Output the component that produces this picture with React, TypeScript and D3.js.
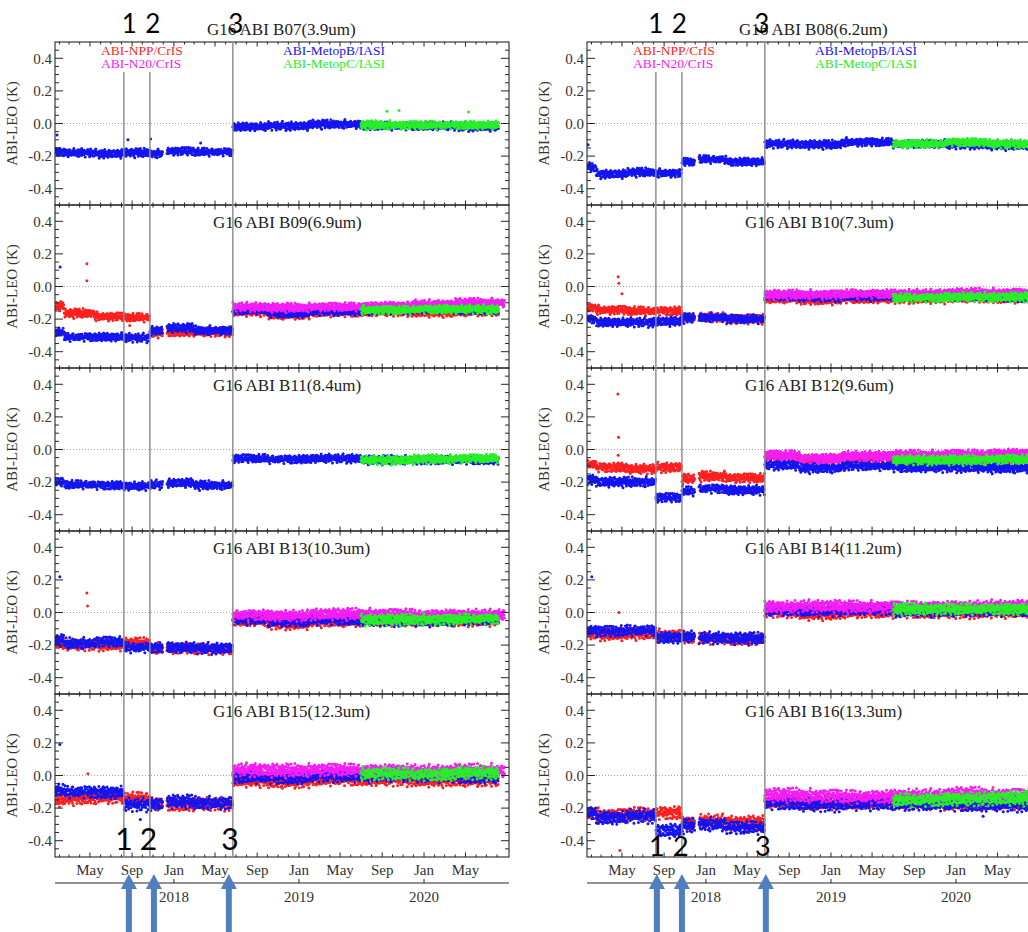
import React, { useMemo } from "react";
import * as d3 from "d3";

// ---------------------------------------------------------------------------
// Data: ABI minus LEO brightness-temperature bias (K) for each ABI IR band.
// Each series is read as a level per period (mean) plus the half-width of the
// daily scatter cloud for the panel.
// ---------------------------------------------------------------------------

const PERIODS: [string, string][] = [
  ["2017-01-20", "2017-02-15"],
  ["2017-02-15", "2017-05-15"],
  ["2017-05-15", "2017-08-08"],
  ["2017-08-08", "2017-10-23"],
  ["2017-10-23", "2017-11-30"],
  ["2017-12-12", "2018-03-01"],
  ["2018-03-01", "2018-06-22"],
  ["2018-06-22", "2018-10-01"],
  ["2018-10-01", "2019-02-01"],
  ["2019-02-01", "2019-07-01"],
  ["2019-07-01", "2019-12-01"],
  ["2019-12-01", "2020-04-01"],
  ["2020-04-01", "2020-08-06"],
];
const N20_FIRST = 7; // NOAA-20 comparisons start with period 7
const METOPC_FIRST = 10; // Metop-C comparisons start with period 10
const N20_END = "2020-08-24";

const EVENTS = ["2017-08-08", "2017-10-23", "2018-06-22"];
const EVENT_LABELS = ["1", "2", "3"];

const BANDS = [
  "G16 ABI B07(3.9um)",
  "G16 ABI B08(6.2um)",
  "G16 ABI B09(6.9um)",
  "G16 ABI B10(7.3um)",
  "G16 ABI B11(8.4um)",
  "G16 ABI B12(9.6um)",
  "G16 ABI B13(10.3um)",
  "G16 ABI B14(11.2um)",
  "G16 ABI B15(12.3um)",
  "G16 ABI B16(13.3um)",
];

const LEGEND = ["ABI-NPP/CrIS", "ABI-N20/CrIS", "ABI-MetopB/IASI", "ABI-MetopC/IASI"];

// B07
const B07_BLUE = [-0.175, -0.18, -0.185, -0.18, -0.185, -0.17, -0.175, -0.02, -0.015, -0.005, -0.015, -0.015, -0.02];
const B07_GREEN = [-0.01, -0.01, -0.01];
// B08
const B08_BLUE = [-0.27, -0.31, -0.3, -0.305, -0.235, -0.22, -0.235, -0.125, -0.13, -0.115, -0.125, -0.13, -0.135];
const B08_GREEN = [-0.125, -0.115, -0.125];
// B09
const B09_RED = [-0.12, -0.165, -0.185, -0.19, -0.29, -0.28, -0.28, -0.155, -0.175, -0.16, -0.155, -0.16, -0.155];
const B09_BLUE = [-0.28, -0.31, -0.31, -0.315, -0.27, -0.255, -0.27, -0.145, -0.165, -0.15, -0.145, -0.14, -0.145];
const B09_MAGENTA = [-0.125, -0.13, -0.125, -0.12, -0.11, -0.1];
const B09_GREEN = [-0.145, -0.14, -0.14];
// B10
const B10_RED = [-0.13, -0.145, -0.15, -0.15, -0.19, -0.19, -0.2, -0.075, -0.085, -0.075, -0.075, -0.07, -0.075];
const B10_BLUE = [-0.2, -0.22, -0.22, -0.215, -0.195, -0.19, -0.2, -0.06, -0.065, -0.06, -0.06, -0.06, -0.065];
const B10_MAGENTA = [-0.05, -0.05, -0.045, -0.045, -0.04, -0.04];
const B10_GREEN = [-0.07, -0.065, -0.065];
// B11
const B11_BLUE = [-0.2, -0.215, -0.22, -0.225, -0.215, -0.205, -0.22, -0.055, -0.06, -0.055, -0.065, -0.065, -0.065];
const B11_GREEN = [-0.065, -0.06, -0.055];
// B12
const B12_RED = [-0.09, -0.11, -0.12, -0.11, -0.18, -0.165, -0.175, -0.045, -0.06, -0.05, -0.05, -0.055, -0.055];
const B12_BLUE = [-0.185, -0.2, -0.2, -0.295, -0.255, -0.24, -0.25, -0.095, -0.115, -0.1, -0.11, -0.11, -0.115];
const B12_MAGENTA = [-0.035, -0.055, -0.04, -0.035, -0.03, -0.025];
const B12_GREEN = [-0.065, -0.065, -0.06];
// B13
const B13_RED = [-0.19, -0.2, -0.2, -0.19, -0.22, -0.22, -0.225, -0.05, -0.07, -0.055, -0.05, -0.05, -0.05];
const B13_BLUE = [-0.17, -0.19, -0.18, -0.215, -0.215, -0.215, -0.22, -0.04, -0.055, -0.045, -0.05, -0.05, -0.045];
const B13_MAGENTA = [-0.015, -0.02, -0.01, -0.01, -0.015, -0.015];
const B13_GREEN = [-0.045, -0.045, -0.04];
// B14
const B14_RED = [-0.13, -0.135, -0.13, -0.14, -0.155, -0.16, -0.165, 0.005, -0.01, 0.0, 0.0, 0.0, 0.005];
const B14_BLUE = [-0.11, -0.115, -0.11, -0.155, -0.15, -0.155, -0.16, 0.015, 0.01, 0.02, 0.01, 0.01, 0.01];
const B14_MAGENTA = [0.035, 0.04, 0.035, 0.035, 0.035, 0.04];
const B14_GREEN = [0.02, 0.02, 0.02];
// B15
const B15_RED = [-0.15, -0.14, -0.135, -0.14, -0.175, -0.18, -0.175, -0.03, -0.04, -0.025, -0.025, -0.03, -0.03];
const B15_BLUE = [-0.09, -0.1, -0.105, -0.18, -0.175, -0.16, -0.17, -0.01, -0.015, 0.0, 0.0, -0.005, -0.01];
const B15_MAGENTA = [0.035, 0.03, 0.035, 0.03, 0.025, 0.03];
const B15_GREEN = [0.01, 0.005, 0.015];
// B16
const B16_RED = [-0.23, -0.245, -0.235, -0.23, -0.29, -0.28, -0.29, -0.16, -0.17, -0.165, -0.165, -0.17, -0.17];
const B16_BLUE = [-0.23, -0.26, -0.25, -0.34, -0.31, -0.3, -0.32, -0.17, -0.18, -0.17, -0.175, -0.18, -0.18];
const B16_MAGENTA = [-0.12, -0.125, -0.13, -0.125, -0.115, -0.12];
const B16_GREEN = [-0.15, -0.145, -0.14];

// half-width of the daily scatter per panel (K)
const SPREADS = [0.026, 0.026, 0.027, 0.028, 0.027, 0.03, 0.034, 0.036, 0.04, 0.042];

// isolated points: [date, value, sensor]
type Outlier = [string, number, string];
const OUTLIERS: Outlier[][] = [
  [["2017-01-25", -0.07, "blue"], ["2017-08-20", -0.1, "blue"], ["2017-10-25", -0.095, "blue"], ["2018-03-20", -0.12, "blue"], ["2019-09-15", 0.075, "green"], ["2019-10-20", 0.08, "green"], ["2020-05-10", 0.07, "green"]],
  [["2017-01-22", -0.13, "blue"], ["2017-01-26", -0.24, "blue"], ["2020-08-20", -0.19, "green"]],
  [["2017-04-22", 0.14, "red"], ["2017-04-22", 0.035, "red"], ["2017-02-03", 0.12, "blue"], ["2017-08-25", -0.24, "red"]],
  [["2017-04-20", 0.06, "red"], ["2017-04-22", 0.02, "red"], ["2017-05-01", -0.045, "red"]],
  [],
  [["2017-04-19", 0.34, "red"], ["2017-04-21", 0.075, "red"], ["2017-04-20", -0.035, "red"]],
  [["2017-02-02", 0.22, "blue"], ["2017-04-22", 0.12, "red"], ["2017-04-24", 0.04, "red"]],
  [["2017-02-02", 0.22, "blue"], ["2017-04-22", 0.0, "red"]],
  [["2017-02-02", 0.19, "blue"], ["2017-04-25", 0.01, "red"], ["2017-09-25", -0.27, "blue"]],
  [["2017-04-25", -0.46, "red"], ["2020-03-20", -0.25, "blue"]],
];

const COLORS: Record<string, string> = {
  red: "#ff1f1f",
  magenta: "#f51cf5",
  blue: "#1414f2",
  green: "#27ee27",
};

// fixed scatter offsets (fractions of the spread) used to lay the daily points
const JITTER_A = [0.12, -0.55, 0.83, -0.18, 0.41, -0.92, 0.06, 0.67, -0.37, 0.25, -0.74, 0.51, -0.04, 0.95, -0.48, 0.15, -0.27, 0.62, -0.81, 0.33, -0.09, 0.76, -0.43, 0.21, -0.66, 0.47, 0.01, -0.98, 0.38, -0.13, 0.86, -0.59, 0.29, -0.02, 0.57, -0.32, 0.91, -0.71, 0.17, -0.24, 0.44];
const JITTER_B = [0.3, -0.7, 0.1, 0.9, -0.4, -0.1, 0.6, -0.9, 0.45, -0.25, 0.8, -0.55, 0.05];

type Series = { key: string; first: number; values: number[] };
type PanelDef = { title: string; series: Series[]; spread: number; outliers: Outlier[] };

const four = (r: number[], b: number[], m: number[], g: number[]): Series[] => [
  { key: "red", first: 0, values: r },
  { key: "blue", first: 0, values: b },
  { key: "magenta", first: N20_FIRST, values: m },
  { key: "green", first: METOPC_FIRST, values: g },
];
const two = (b: number[], g: number[]): Series[] => [
  { key: "blue", first: 0, values: b },
  { key: "green", first: METOPC_FIRST, values: g },
];

const SERIES: Series[][] = [
  two(B07_BLUE, B07_GREEN),
  two(B08_BLUE, B08_GREEN),
  four(B09_RED, B09_BLUE, B09_MAGENTA, B09_GREEN),
  four(B10_RED, B10_BLUE, B10_MAGENTA, B10_GREEN),
  two(B11_BLUE, B11_GREEN),
  four(B12_RED, B12_BLUE, B12_MAGENTA, B12_GREEN),
  four(B13_RED, B13_BLUE, B13_MAGENTA, B13_GREEN),
  four(B14_RED, B14_BLUE, B14_MAGENTA, B14_GREEN),
  four(B15_RED, B15_BLUE, B15_MAGENTA, B15_GREEN),
  four(B16_RED, B16_BLUE, B16_MAGENTA, B16_GREEN),
];

const PANELS: PanelDef[] = BANDS.map((title, i) => ({
  title,
  series: SERIES[i],
  spread: SPREADS[i],
  outliers: OUTLIERS[i],
}));

// ---------------------------------------------------------------------------
// Layout
// ---------------------------------------------------------------------------
const W = 1028;
const H = 932;
const PLOT_W = 454;
const PANEL_H = 163;
const COL_LEFT = [55, 587];
const ROW_TOP = [42, 205, 368, 531, 694];
const BOTTOM = ROW_TOP[4] + PANEL_H;
const parse = d3.timeParse("%Y-%m-%d");
const X_DOMAIN: [Date, Date] = [parse("2017-01-19")!, parse("2020-09-05")!];
const SERIF = "'Liberation Serif', 'DejaVu Serif', serif";
const SANS = "Lato, 'Open Sans', 'Liberation Sans', sans-serif";
const AXIS = "#262626";

const Y_MAJOR = [-0.4, -0.2, 0, 0.2, 0.4];
const Y_MINOR = d3.range(-9, 10).map((k) => k * 0.05).filter((v) => Math.abs(Math.round(v * 100) % 20) !== 0);

const R = 1.5;

function seriesPath(
  s: Series,
  spread: number,
  phase: number,
  x: d3.ScaleTime<number, number>,
  y: d3.ScaleLinear<number, number>
) {
  let d = "";
  let k = 0;
  s.values.forEach((v, j) => {
    const p = s.first + j;
    const [start, stop] = PERIODS[p];
    const end = s.key === "magenta" && p === PERIODS.length - 1 ? N20_END : stop;
    d3.timeDay.range(parse(start)!, parse(end)!).forEach((day) => {
      const off =
        0.8 * JITTER_A[(k + phase) % JITTER_A.length] +
        0.4 * JITTER_B[(k * 3 + phase) % JITTER_B.length];
      const px = x(day);
      const py = y(v + spread * off);
      d += `M${(px - R).toFixed(1)},${py.toFixed(1)}a${R},${R} 0 1,0 ${2 * R},0a${R},${R} 0 1,0 ${-2 * R},0`;
      k++;
    });
  });
  return d;
}

function Panel({ def, index }: { def: PanelDef; index: number }) {
  const col = index % 2;
  const row = Math.floor(index / 2);
  const left = COL_LEFT[col];
  const top = ROW_TOP[row];
  const x = d3.scaleTime().domain(X_DOMAIN).range([left, left + PLOT_W]);
  const y = d3.scaleLinear().domain([-0.5, 0.5]).range([top + PANEL_H, top]);
  const clipId = `clip-${index}`;

  const paths = useMemo(
    () =>
      def.series.map((s, si) => ({
        key: s.key,
        d: seriesPath(s, def.spread, si * 11 + index * 7, x, y),
      })),
    [index]
  );

  const months = d3.timeMonth
    .range(X_DOMAIN[0], X_DOMAIN[1])
    .filter((m) => x(m) > left + 2 && x(m) < left + PLOT_W - 2);

  return (
    <g>
      <defs>
        <clipPath id={clipId}>
          <rect x={left} y={top} width={PLOT_W} height={PANEL_H} />
        </clipPath>
      </defs>
      {/* zero reference */}
      <line
        x1={left}
        x2={left + PLOT_W}
        y1={y(0)}
        y2={y(0)}
        stroke="#9a9a9a"
        strokeWidth={0.9}
        strokeDasharray="1 2"
      />
      <g clipPath={`url(#${clipId})`}>
        {paths.map((p) => (
          <path key={p.key} d={p.d} fill={COLORS[p.key]} />
        ))}
        {def.outliers.map(([dt, v, key], i) => (
          <circle key={i} cx={x(parse(dt)!)} cy={y(v)} r={R} fill={COLORS[key]} />
        ))}
      </g>
      {/* frame */}
      <rect x={left} y={top} width={PLOT_W} height={PANEL_H} fill="none" stroke={AXIS} strokeWidth={1.1} />
      {/* y ticks, both sides, inward */}
      {Y_MAJOR.map((v) => (
        <g key={`M${v}`}>
          <line x1={left} x2={left + 8} y1={y(v)} y2={y(v)} stroke={AXIS} />
          <line x1={left + PLOT_W} x2={left + PLOT_W - 8} y1={y(v)} y2={y(v)} stroke={AXIS} />
          <text
            x={left - 3}
            y={y(v)}
            dy="0.35em"
            textAnchor="end"
            fontFamily={SERIF}
            fontSize={15}
            fill="#333"
          >
            {v.toFixed(1)}
          </text>
        </g>
      ))}
      {Y_MINOR.map((v) => (
        <g key={`m${v}`}>
          <line x1={left} x2={left + 4} y1={y(v)} y2={y(v)} stroke={AXIS} />
          <line x1={left + PLOT_W} x2={left + PLOT_W - 4} y1={y(v)} y2={y(v)} stroke={AXIS} />
        </g>
      ))}
      {/* x ticks on top and bottom edges, inward */}
      {months.map((m) => {
        const major = m.getMonth() % 4 === 0;
        const len = major ? 4.5 : 2.5;
        const px = x(m);
        return (
          <g key={+m}>
            <line x1={px} x2={px} y1={top} y2={top + len} stroke={AXIS} />
            <line x1={px} x2={px} y1={top + PANEL_H} y2={top + PANEL_H - len} stroke={AXIS} />
          </g>
        );
      })}
      <text
        transform={`translate(${left - 38},${top + PANEL_H / 2}) rotate(-90)`}
        textAnchor="middle"
        fontFamily={SERIF}
        fontSize={15}
        fill="#333"
      >
        ABI-LEO (K)
      </text>
      {row === 0 ? (
        <text x={left + 152} y={35} fontFamily={SERIF} fontSize={17} fill="#222">
          {def.title}
        </text>
      ) : (
        <text x={left + 158} y={top + 23} fontFamily={SERIF} fontSize={17} fill="#222">
          {def.title}
        </text>
      )}
      {row === 0 && (
        <g fontFamily={SERIF} fontSize={13.5}>
          <text x={left + 46} y={top + 13} fill={COLORS.red}>{LEGEND[0]}</text>
          <text x={left + 46} y={top + 26} fill={COLORS.magenta}>{LEGEND[1]}</text>
          <text x={left + 228} y={top + 13} fill={COLORS.blue}>{LEGEND[2]}</text>
          <text x={left + 228} y={top + 26} fill={COLORS.green}>{LEGEND[3]}</text>
        </g>
      )}
    </g>
  );
}

// annotation placement relative to the event lines, per column
const LINE_TOP = [72, 72, 42];
const TOP_DIGIT_DX = [[5.5, 3, 3], [0, -2.5, -3]];
const BOTTOM_DIGIT_DX = [[0, -1.5, -3], [1, -1, -2]];
const BOTTOM_DIGIT = [{ y: 850, size: 30 }, { y: 856, size: 27 }];
const ARROW_DX = [[5, 4, -4], [1, 0, 1]];

function TimeAxis({ col }: { col: number }) {
  const left = COL_LEFT[col];
  const x = d3.scaleTime().domain(X_DOMAIN).range([left, left + PLOT_W]);
  const fmtMonth = d3.timeFormat("%b");
  const fmtYear = d3.timeFormat("%Y");
  const labels = d3.timeMonth
    .range(X_DOMAIN[0], X_DOMAIN[1])
    .filter((m) => m.getMonth() % 4 === 0 && x(m) > left + 3 && x(m) < left + PLOT_W - 3);
  const years = d3.timeYear.range(X_DOMAIN[0], X_DOMAIN[1]).filter((yv) => x(yv) > left);
  const axisY = 883;
  return (
    <g fontFamily={SERIF} fontSize={15} fill="#333">
      {labels.map((m) => (
        <text key={+m} x={x(m)} y={875} textAnchor="middle">
          {fmtMonth(m)}
        </text>
      ))}
      <line x1={left} x2={left + PLOT_W} y1={axisY} y2={axisY} stroke={AXIS} strokeWidth={1.2} />
      {years.map((yv) => (
        <g key={+yv}>
          <line x1={x(yv)} x2={x(yv)} y1={axisY} y2={axisY - 4} stroke={AXIS} />
          <text x={x(yv)} y={902} textAnchor="middle">
            {fmtYear(yv)}
          </text>
        </g>
      ))}
    </g>
  );
}

function Events({ col }: { col: number }) {
  const left = COL_LEFT[col];
  const x = d3.scaleTime().domain(X_DOMAIN).range([left, left + PLOT_W]);
  return (
    <g>
      {EVENTS.map((e, i) => {
        const px = x(parse(e)!);
        const ax = px + ARROW_DX[col][i];
        const tip = 874;
        const arrow = [
          [ax, tip],
          [ax + 8, tip + 15],
          [ax + 3, tip + 15],
          [ax + 3, H + 2],
          [ax - 3, H + 2],
          [ax - 3, tip + 15],
          [ax - 8, tip + 15],
        ];
        return (
          <g key={e}>
            <line x1={px} x2={px} y1={LINE_TOP[i]} y2={BOTTOM} stroke="#8f8f8f" strokeWidth={1.5} />
            <polygon points={arrow.map((p) => p.join(",")).join(" ")} fill="#4f7fbc" />
            <text
              x={px + TOP_DIGIT_DX[col][i]}
              y={33}
              textAnchor="middle"
              fontFamily={SANS}
              fontSize={26}
              fill="#000"
            >
              {EVENT_LABELS[i]}
            </text>
            <text
              x={px + BOTTOM_DIGIT_DX[col][i]}
              y={BOTTOM_DIGIT[col].y}
              textAnchor="middle"
              fontFamily={SANS}
              fontSize={BOTTOM_DIGIT[col].size}
              fill="#000"
            >
              {EVENT_LABELS[i]}
            </text>
          </g>
        );
      })}
    </g>
  );
}

export default function App() {
  return (
    <svg
      width={W}
      height={H}
      viewBox={`0 0 ${W} ${H}`}
      style={{ position: "fixed", left: 0, top: 0, background: "#fff" }}
    >
      <rect x={0} y={0} width={W} height={H} fill="#fff" />
      {PANELS.map((p, i) => (
        <Panel key={p.title} def={p} index={i} />
      ))}
      <TimeAxis col={0} />
      <TimeAxis col={1} />
      <Events col={0} />
      <Events col={1} />
    </svg>
  );
}
